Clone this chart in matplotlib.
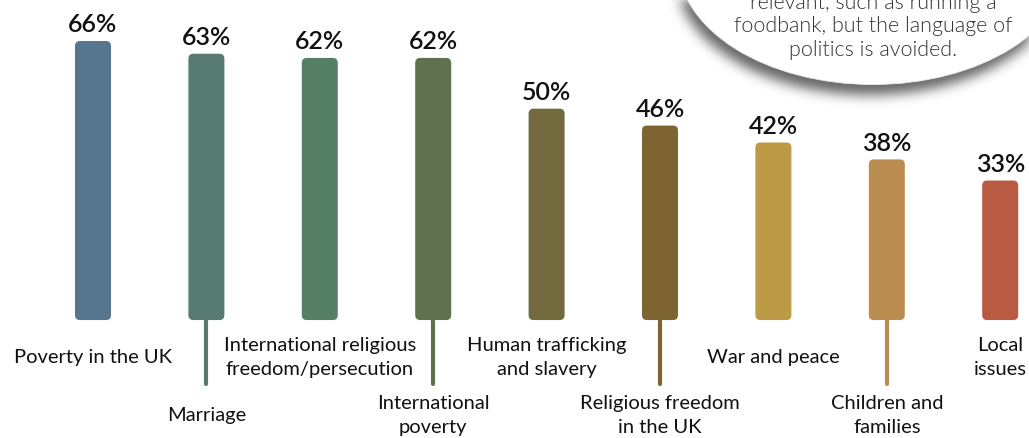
import numpy as np
import matplotlib

matplotlib.use("Agg")
import matplotlib.pyplot as plt
from matplotlib.patches import FancyBboxPatch, Ellipse

plt.rcParams["font.family"] = ["Lato", "DejaVu Sans"]

categories = [
    "Poverty in the UK",
    "Marriage",
    "International religious\nfreedom/persecution",
    "International\npoverty",
    "Human trafficking\nand slavery",
    "Religious freedom\nin the UK",
    "War and peace",
    "Children and\nfamilies",
    "Local\nissues",
]
values = [66, 63, 62, 62, 50, 46, 42, 38, 33]
colors = [
    "#56758f", "#577b73", "#568066", "#5f714f", "#736b3e",
    "#7d6431", "#bd9b46", "#bb8c4f", "#b95b43",
]
note_lines = [
    "relevant, such as running a",
    "foodbank, but the language of",
    "politics is avoided.",
]

W, H, DPI = 1029, 439, 100
fig = plt.figure(figsize=(W / DPI, H / DPI), dpi=DPI)

# main axes spans the whole figure; limits chosen so 0% sits near the bottom third
ax = fig.add_axes([0, 0, 1, 1])
ax.set_xlim(-0.82, 8.254)
ax.set_ylim(-27.9, 75.94)
ax.axis("off")

# pixel -> data scale factors, used for rounded corners and stems
px_x = (8.254 + 0.82) / W
px_y = (75.94 + 27.9) / H

bar_w = 36 * px_x
radius = 5 * px_x
aspect = (5 * px_y) / radius
stem_end = -64 * px_y

for i, (cat, val, col) in enumerate(zip(categories, values, colors)):
    lower = i % 2 == 1
    if lower:
        ax.plot([i, i], [0, stem_end], color=col, lw=3.0,
                solid_capstyle="round", zorder=1)
    bar = FancyBboxPatch(
        (i - bar_w / 2, 0), bar_w, val,
        boxstyle=f"round,pad=0,rounding_size={radius}",
        mutation_aspect=aspect, facecolor=col, edgecolor="none", zorder=2,
    )
    ax.add_patch(bar)
    ax.annotate(f"{val}%", (i, val), xytext=(0, 7), textcoords="offset points",
                ha="center", va="baseline", fontsize=18, fontweight="semibold",
                color="#111111")
    label_y = -22.3 if lower else -8.6
    ax.text(i, label_y, cat, ha="center", va="center", fontsize=14.5,
            color="#111111", linespacing=1.5)

# speech bubble in the top-right corner, drawn in pixel units
ov = fig.add_axes([0, 0, 1, 1], facecolor="none")
ov.set_xlim(0, W)
ov.set_ylim(H, 0)
ov.axis("off")

cx, cy, ew, eh = 873, -37, 390, 245

# soft drop shadow: ellipse mask blurred with a separable gaussian
yy, xx = np.mgrid[0:H, 0:W].astype(float)
sx, sy = cx - 4, cy + 10
mask = (((xx - sx) / (ew / 2)) ** 2 + ((yy - sy) / (eh / 2)) ** 2 <= 1).astype(float)
sigma = 6.0
r = np.arange(-20, 21)
kern = np.exp(-(r ** 2) / (2 * sigma ** 2))
kern /= kern.sum()
blur = np.apply_along_axis(lambda v: np.convolve(v, kern, mode="same"), 0, mask)
blur = np.apply_along_axis(lambda v: np.convolve(v, kern, mode="same"), 1, blur)
shadow = np.zeros((H, W, 4))
shadow[..., 3] = blur * 0.6
ov.imshow(shadow, extent=(0, W, H, 0), zorder=5, interpolation="bilinear")
ov.set_xlim(0, W)
ov.set_ylim(H, 0)

ov.add_patch(Ellipse((cx, cy), ew, eh, facecolor="white",
                     edgecolor="#ececec", lw=0.6, zorder=6))
for j, line in enumerate(note_lines):
    ov.text(cx, 3 + 23.5 * j, line, ha="center", va="center",
            fontsize=15.5, fontweight=300, color="#333333", zorder=7)

fig.savefig("out.png", dpi=DPI)
